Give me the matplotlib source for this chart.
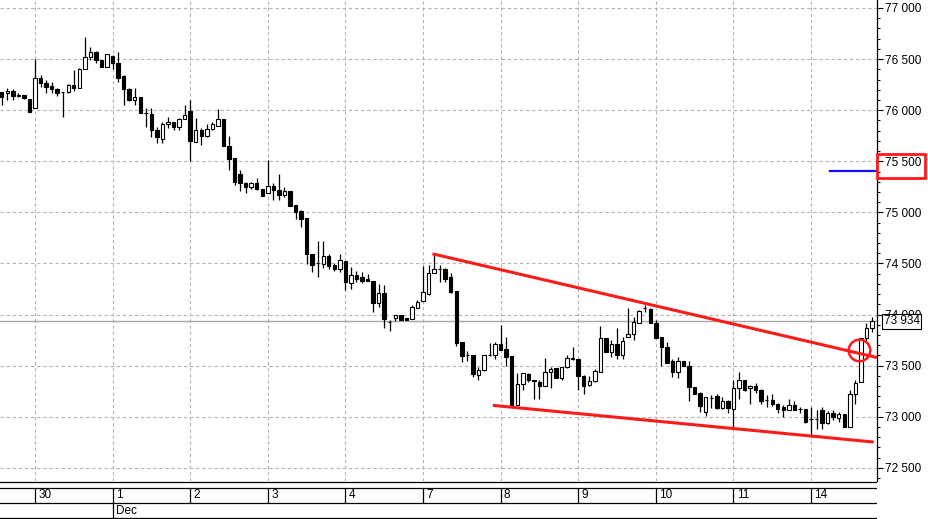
import numpy as np
import matplotlib
matplotlib.use("Agg")
import matplotlib.pyplot as plt
import matplotlib.transforms as mtransforms
from matplotlib.patches import Rectangle
from matplotlib.ticker import MultipleLocator, FuncFormatter

# hourly bars (14 bars per session)
opens = [
    76175, 76165, 76190, 76150, 76145, 76110,
    76020, 76310, 76265, 76240, 76210, 76175, 76175, 76245, 76220, 76400, 76525, 76570, 76490, 76425,
    76530, 76465, 76335, 76205, 76100, 76125, 75970, 75960, 75805, 75715, 75860, 75882, 75840, 75910,
    75990, 75690, 75805, 75750, 75813, 75850, 75915, 75650, 75530, 75375, 75290, 75250, 75290, 75230,
    75185, 75260, 75220, 75170, 75205, 75070, 75015, 74950, 74590, 74500, 74495, 74575, 74485, 74450,
    74520, 74310, 74385, 74370, 74345, 74330, 74115, 74210, 73930, 73965, 73995, 73965, 73955, 74060,
    74135, 74200, 74410, 74445, 74450, 74370, 74235, 73735, 73605, 73605, 73410, 73460, 73605, 73605,
    73710, 73660, 73595, 73120, 73320, 73420, 73355, 73345, 73300, 73435, 73475, 73375, 73485, 73580,
    73565, 73400, 73310, 73355, 73440, 73775, 73635, 73710, 73600, 73785, 73810, 73915, 74060, 74055,
    73915, 73785, 73680, 73545, 73440, 73545, 73495, 73295, 73230, 73050, 73180, 73205, 73085, 73155,
    73075, 73280, 73360, 73280, 73300, 73260, 73165, 73165, 73130, 73095, 73065, 73120, 73075, 73075,
    72980, 72980, 73065, 72935, 73040, 72990, 73025, 72905, 73220, 73345, 73770, 73865,
]
highs = [
    76180, 76215, 76205, 76165, 76145, 76110,
    76500, 76345, 76295, 76280, 76215, 76180, 76255, 76395, 76415, 76715, 76620, 76580, 76490, 76550,
    76540, 76570, 76345, 76215, 76215, 76125, 76020, 76020, 75840, 75885, 75930, 75885, 75920, 76050,
    76095, 75920, 75830, 75860, 75885, 76010, 75915, 75745, 75530, 75415, 75300, 75300, 75335, 75230,
    75515, 75285, 75375, 75250, 75205, 75070, 75025, 74950, 74590, 74720, 74720, 74595, 74500, 74595,
    74520, 74465, 74430, 74420, 74395, 74330, 74295, 74290, 73945, 74000, 73995, 73965, 74095, 74145,
    74475, 74485, 74595, 74485, 74455, 74410, 74235, 73735, 73645, 73605, 73490, 73605, 73720, 73735,
    73900, 73785, 73595, 73425, 73430, 73430, 73360, 73360, 73580, 73490, 73480, 73490, 73605, 73680,
    73570, 73410, 73400, 73465, 73890, 73775, 73750, 73865, 73785, 74060, 73980, 74045, 74095, 74060,
    73945, 73785, 73735, 73570, 73590, 73550, 73550, 73295, 73245, 73195, 73215, 73225, 73195, 73165,
    73365, 73440, 73365, 73310, 73330, 73270, 73215, 73225, 73140, 73115, 73170, 73150, 73095, 73075,
    73100, 73065, 73100, 73055, 73065, 73050, 73025, 73260, 73365, 73770, 73920, 73980,
]
lows = [
    76050, 76100, 76100, 76130, 76110, 75985,
    76020, 76225, 76165, 76165, 76140, 75930, 76165, 76190, 76220, 76400, 76490, 76460, 76425, 76425,
    76405, 76280, 76050, 76085, 76050, 75970, 75840, 75740, 75675, 75675, 75825, 75805, 75805, 75910,
    75505, 75690, 75660, 75740, 75805, 75850, 75645, 75415, 75270, 75210, 75185, 75225, 75220, 75165,
    75185, 75120, 75120, 75155, 75065, 74940, 74860, 74495, 74420, 74370, 74455, 74445, 74430, 74420,
    74240, 74255, 74320, 74305, 74330, 74030, 74075, 73870, 73840, 73940, 73945, 73945, 73955, 74060,
    74135, 74190, 74405, 74320, 74320, 74215, 73690, 73540, 73550, 73390, 73360, 73450, 73595, 73570,
    73655, 73495, 73110, 73120, 73260, 73345, 73170, 73170, 73300, 73285, 73375, 73365, 73475, 73560,
    73260, 73225, 73300, 73345, 73440, 73635, 73590, 73570, 73565, 73785, 73750, 73915, 74030, 73915,
    73770, 73495, 73530, 73385, 73375, 73495, 73155, 73225, 73050, 73010, 73085, 73075, 73075, 73040,
    72880, 73170, 73255, 73125, 73230, 73130, 73100, 73105, 73035, 72995, 73065, 73065, 73035, 72935,
    72805, 72880, 72880, 72930, 72970, 72950, 72905, 72905, 73130, 73345, 73735, 73830,
]
closes = [
    76130, 76190, 76140, 76135, 76115, 75985,
    76310, 76265, 76230, 76205, 76165, 76175, 76245, 76220, 76400, 76525, 76565, 76490, 76425, 76550,
    76460, 76310, 76205, 76100, 76125, 75970, 75970, 75805, 75740, 75860, 75885, 75840, 75915, 75950,
    75700, 75805, 75750, 75815, 75865, 75915, 75645, 75520, 75300, 75285, 75250, 75285, 75225, 75165,
    75260, 75220, 75170, 75205, 75065, 75000, 74940, 74590, 74485, 74500, 74575, 74475, 74445, 74535,
    74320, 74385, 74350, 74330, 74330, 74115, 74210, 73955, 73930, 73995, 73945, 73945, 74070, 74120,
    74220, 74410, 74445, 74445, 74345, 74225, 73725, 73595, 73605, 73415, 73460, 73605, 73605, 73710,
    73655, 73590, 73115, 73320, 73425, 73360, 73355, 73300, 73435, 73465, 73380, 73485, 73580, 73565,
    73395, 73300, 73355, 73450, 73775, 73635, 73710, 73600, 73745, 73810, 73925, 74040, 74060, 73915,
    73770, 73680, 73530, 73440, 73545, 73495, 73295, 73225, 73105, 73190, 73180, 73085, 73155, 73085,
    73280, 73360, 73260, 73300, 73260, 73155, 73165, 73130, 73075, 73065, 73120, 73065, 73075, 72950,
    72980, 72980, 72935, 73040, 73000, 73025, 72905, 73220, 73330, 73770, 73865, 73934,
]

days = ["30", "1", "2", "3", "4", "7", "8", "9", "10", "11", "14"]
day_first_bar = [6, 20, 34, 48, 62, 76, 90, 104, 118, 132, 146]
month = "Dec"
month_first_bar = 20

# drawn annotations (bar index, price)
upper_trend = ([77.7, 158.3], [74595, 73575])
lower_trend = ([88.6, 157.3], [73112, 72753])
circle_at = (154.7, 73654)
blue_level = ([149.5, 157.9], 75405)
boxed_level = 75500

opens = np.array(opens, float)
highs = np.array(highs, float)
lows = np.array(lows, float)
closes = np.array(closes, float)
x = np.arange(len(opens))

fig = plt.figure(figsize=(9.29, 5.19), dpi=100)
plt.rcParams['font.family'] = ['Liberation Sans', 'DejaVu Sans']
W = 877 / 929
ax = fig.add_axes([0, 38 / 519, W, 481 / 519])
ax.set_xlim(-0.31, 157.9)
ax.set_ylim(72372, 77078)

# grid
ax.yaxis.set_major_locator(MultipleLocator(500))
ax.yaxis.set_minor_locator(MultipleLocator(100))
ax.set_xticks(day_first_bar)
ax.grid(True, which='major', color='#b4b4b4', linestyle=(0, (3, 2.5)), linewidth=0.8)
ax.set_axisbelow(True)
ax.tick_params(axis='x', length=0, labelbottom=False)

ax.yaxis.tick_right()
ax.yaxis.set_major_formatter(FuncFormatter(lambda v, _: f"{v:,.0f}".replace(",", " ")))
ax.tick_params(axis='y', which='major', length=4, width=0.8, pad=2, labelsize=8.5, direction='out')
ax.tick_params(axis='y', which='minor', length=2.5, width=0.8, direction='out')
for s in ['left', 'top', 'bottom']:
    ax.spines[s].set_visible(False)
ax.spines['right'].set_linewidth(0.9)

# last price line
ax.axhline(closes[-1], color='#a8a8a8', lw=1, zorder=1)

# candles
ax.vlines(x, lows, highs, color='black', lw=0.9, zorder=2)
up = closes > opens
body = np.maximum(np.abs(closes - opens), 1)
ax.bar(x, body, bottom=np.minimum(opens, closes), width=0.62,
       color=np.where(up, 'white', 'black'), edgecolor='black', linewidth=0.8, zorder=3)

# annotations
ax.plot(*upper_trend, color='#ff1a1a', lw=2.2, solid_capstyle='butt', zorder=4)
ax.plot(*lower_trend, color='#ff1a1a', lw=2.2, solid_capstyle='butt', zorder=4)
ax.plot(*circle_at, 'o', ms=15.5, mfc='none', mec='#ff1a1a', mew=1.8, zorder=5)
ax.plot(blue_level[0], [blue_level[1]] * 2, color='#1010ff', lw=1.6, zorder=4, clip_on=False)

trans = mtransforms.blended_transform_factory(ax.transAxes, ax.transData)
ax.add_patch(Rectangle((1.0, boxed_level - 163), 0.0547, 234, transform=trans, fill=False,
                       ec='#ff1a1a', lw=2, clip_on=False, zorder=6))
ax.text(1.0075, closes[-1], f"{closes[-1]:,.0f}".replace(",", " "), transform=trans,
        ha='left', va='center', fontsize=8.5, clip_on=False, zorder=7,
        bbox=dict(boxstyle='square,pad=0.12', fc='white', ec='black', lw=0.8))

# date strip
ax2 = fig.add_axes([0, 0, W, 38 / 519], sharex=ax)
ax2.set_ylim(0, 38)
ax2.axis('off')
for yy in [37.5, 31, 16, 1]:
    ax2.axhline(yy, color='black', lw=0.9)
ax2.vlines(day_first_bar, 16, 31, color='black', lw=0.9)
ax2.vlines([month_first_bar], 1, 16, color='black', lw=0.9)
for d, b in zip(days, day_first_bar):
    ax2.text(b + 0.6, 23.5, d, ha='left', va='center', fontsize=8.5)
ax2.text(month_first_bar + 0.6, 8.5, month, ha='left', va='center', fontsize=8.5)
ax.set_xlim(-0.31, 157.9)

fig.savefig("out.png", dpi=100)
